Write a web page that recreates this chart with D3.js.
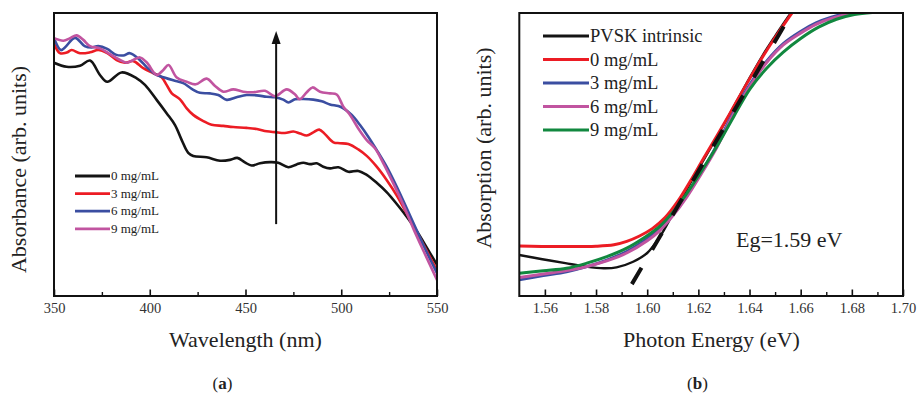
<!DOCTYPE html>
<html>
<head>
<meta charset="utf-8">
<script src="https://cdn.jsdelivr.net/npm/d3@7"></script>
<style>
  html, body { margin: 0; padding: 0; background: #fff; }
  svg { display: block; }
  text { font-family: "Liberation Serif", "Times New Roman", serif; }
</style>
</head>
<body>
<svg id="fig" width="917" height="394"></svg>
<script>
// ---- (a) UV-vis absorbance spectra: [wavelength nm, absorbance a.u.] ----
const abs0 = [[350,0.824],[356.6,0.810],[363.6,0.814],[368.8,0.832],[374,0.781],[377.8,0.757],[385.3,0.790],[393.2,0.769],[397.5,0.746],[403.6,0.693],[408.8,0.646],[413.2,0.604],[416.7,0.551],[420.1,0.506],[422.7,0.495],[429.7,0.490],[436.7,0.478],[441.9,0.481],[445.7,0.488],[449.7,0.472],[453.2,0.461],[457.6,0.469],[462.8,0.473],[467.1,0.471],[472.4,0.455],[476.7,0.465],[480.2,0.471],[483.7,0.466],[487.2,0.469],[490.6,0.457],[494.1,0.451],[498.5,0.455],[503.7,0.439],[508.9,0.442],[513.3,0.428],[518.5,0.400],[523.7,0.367],[529.0,0.325],[534.2,0.280],[539.4,0.230],[544.6,0.172],[550,0.110]];
const abs3 = [[350,0.893],[353.1,0.858],[356.6,0.860],[359.2,0.869],[363.6,0.858],[368.8,0.861],[373.1,0.869],[377.8,0.858],[382.7,0.834],[387.1,0.824],[391.4,0.830],[396.6,0.805],[401.9,0.787],[406.2,0.773],[408.8,0.746],[411.5,0.716],[415.8,0.695],[419.3,0.663],[422.7,0.640],[428.0,0.618],[432.3,0.605],[438.4,0.601],[443.6,0.597],[450.6,0.594],[455.9,0.590],[461.1,0.582],[465.4,0.579],[470.6,0.576],[475.0,0.581],[478.5,0.574],[482.0,0.567],[485.4,0.578],[488.5,0.588],[491.5,0.572],[495.9,0.543],[499.3,0.540],[503.7,0.537],[508.9,0.518],[513.3,0.495],[518.5,0.457],[523.7,0.410],[529.0,0.355],[534.2,0.292],[539.4,0.227],[544.6,0.160],[550,0.090]];
const abs6 = [[350,0.911],[353.6,0.869],[355.7,0.878],[361.0,0.912],[366.0,0.883],[369.7,0.878],[373.1,0.883],[377.8,0.873],[382.2,0.853],[386.2,0.850],[389.7,0.858],[394.5,0.836],[398.5,0.808],[403.0,0.783],[407.6,0.772],[412.3,0.762],[417.5,0.752],[421.9,0.732],[426.2,0.718],[431.5,0.716],[435.8,0.710],[440.2,0.693],[445.7,0.703],[450.6,0.710],[455.9,0.709],[461.1,0.704],[465.4,0.702],[469.7,0.694],[472.4,0.684],[475.9,0.695],[480.2,0.696],[485.4,0.694],[489.8,0.688],[494.1,0.677],[498.5,0.671],[501.1,0.663],[505.5,0.640],[509.8,0.604],[514.1,0.563],[518.5,0.516],[523.7,0.457],[529.0,0.386],[534.2,0.310],[539.4,0.232],[544.6,0.155],[550,0.081]];
const abs9 = [[350,0.911],[354.9,0.902],[358.4,0.911],[361.8,0.921],[365.3,0.905],[368.8,0.883],[374,0.875],[379.2,0.855],[384.5,0.834],[388.0,0.824],[391.4,0.834],[394.9,0.843],[398.5,0.825],[403.6,0.781],[407.1,0.799],[409.8,0.816],[414.1,0.772],[419.3,0.757],[424.0,0.748],[429.7,0.768],[434.1,0.742],[438.4,0.722],[443.6,0.730],[448.8,0.722],[454.1,0.720],[460.2,0.725],[465.4,0.706],[471.5,0.730],[475.9,0.712],[478.2,0.695],[482.0,0.720],[485.0,0.737],[488.9,0.722],[494.1,0.716],[497.6,0.712],[501.1,0.669],[504.6,0.640],[508.9,0.592],[513.3,0.551],[517.6,0.522],[522.0,0.469],[527.2,0.398],[532.4,0.322],[537.6,0.239],[542.9,0.160],[550,0.057]];
const seriesA = ["0 mg/mL", "3 mg/mL", "6 mg/mL", "9 mg/mL"];
const wavelengthTicks = [350, 400, 450, 500, 550];
const wavelengthMinor = [375, 425, 475, 525];
// arrow marking increasing concentration: [wavelength, from, to]
const trendArrow = [466, 0.254, 0.936];

// ---- (b) absorption edge: [photon energy eV, absorption a.u.] ----
const edgeIntrinsic = [[1.550,0.145],[1.559,0.130],[1.568,0.116],[1.576,0.104],[1.583,0.098],[1.588,0.101],[1.5945,0.121],[1.600,0.152],[1.605,0.210],[1.610,0.290],[1.615,0.370],[1.620,0.448],[1.625,0.527],[1.630,0.606],[1.635,0.688],[1.640,0.770],[1.645,0.848],[1.650,0.918],[1.655,0.985],[1.658,1.02]];
const edge0 = [[1.550,0.177],[1.565,0.175],[1.580,0.176],[1.587,0.181],[1.592,0.193],[1.597,0.212],[1.602,0.238],[1.607,0.277],[1.612,0.335],[1.617,0.408],[1.622,0.486],[1.627,0.562],[1.632,0.640],[1.637,0.720],[1.642,0.798],[1.647,0.872],[1.652,0.940],[1.657,1.005],[1.660,1.04]];
const edge3 = [[1.550,0.057],[1.5594,0.072],[1.5685,0.086],[1.5764,0.104],[1.5842,0.127],[1.592,0.157],[1.600,0.202],[1.605,0.238],[1.610,0.288],[1.6155,0.355],[1.6207,0.430],[1.6272,0.532],[1.6337,0.648],[1.6402,0.748],[1.6467,0.830],[1.6532,0.892],[1.6598,0.934],[1.666,0.965],[1.672,0.985],[1.678,0.999],[1.686,1.004]];
const edge6 = [[1.550,0.065],[1.5594,0.078],[1.5685,0.090],[1.5764,0.104],[1.5842,0.124],[1.592,0.152],[1.600,0.195],[1.605,0.232],[1.610,0.283],[1.6155,0.350],[1.6207,0.425],[1.6272,0.525],[1.6337,0.642],[1.6402,0.742],[1.6467,0.825],[1.6532,0.887],[1.6598,0.928],[1.666,0.960],[1.672,0.981],[1.680,0.998],[1.688,1.004]];
const edge9 = [[1.550,0.080],[1.5594,0.089],[1.5685,0.098],[1.5764,0.116],[1.5842,0.139],[1.592,0.169],[1.5985,0.204],[1.605,0.247],[1.6102,0.298],[1.6155,0.363],[1.6207,0.434],[1.6272,0.528],[1.6337,0.632],[1.6402,0.732],[1.6467,0.805],[1.6532,0.862],[1.660,0.910],[1.667,0.950],[1.674,0.978],[1.681,0.995],[1.688,1.002],[1.696,1.004]];
const seriesB = ["PVSK intrinsic", "0 mg/mL", "3 mg/mL", "6 mg/mL", "9 mg/mL"];
const energyTicks = [1.56, 1.58, 1.60, 1.62, 1.64, 1.66, 1.68, 1.70];
const energyMinor = [1.57, 1.59, 1.61, 1.63, 1.65, 1.67, 1.69];
// linear fit of the absorption edge (dashed)
const edgeTangent = [[1.594, 0.042], [1.6565, 1.0]];
const bandGapLabel = "Eg=1.59 eV";

// ---- drawing ----
const svg = d3.select("#fig");
const FONT = "'Liberation Serif', 'Times New Roman', serif";
const colA = ["#141414", "#ec1c24", "#3b4ea1", "#c154a0"];
const colB = ["#141414", "#ec1c24", "#3b4ea1", "#c154a0", "#11883f"];

const defs = svg.append("defs");

function panel(box, xDomain, id) {
  const x = d3.scaleLinear().domain(xDomain).range([box.left, box.right]);
  const y = d3.scaleLinear().domain([0, 1]).range([box.bottom, box.top]);
  defs.append("clipPath").attr("id", id)
    .append("rect").attr("x", box.left).attr("y", box.top)
    .attr("width", box.right - box.left).attr("height", box.bottom - box.top);
  return { x, y };
}

function frameAndAxis(box, x, major, minor, fmt) {
  const g = svg.append("g");
  const ax = g.append("g").attr("transform", `translate(0,${box.bottom})`)
    .call(d3.axisBottom(x).tickValues(major).tickSizeInner(-6.5).tickSizeOuter(0)
      .tickPadding(7).tickFormat(fmt));
  ax.select(".domain").remove();
  ax.selectAll(".tick line").attr("stroke", "#111").attr("stroke-width", 1.6);
  ax.selectAll(".tick text").attr("font-family", FONT).attr("font-size", 14.5).attr("fill", "#333");
  const mn = g.append("g").attr("transform", `translate(0,${box.bottom})`)
    .call(d3.axisBottom(x).tickValues(minor).tickSizeInner(-4).tickSizeOuter(0).tickFormat(""));
  mn.select(".domain").remove();
  mn.selectAll(".tick line").attr("stroke", "#111").attr("stroke-width", 1.4);
  g.append("rect").attr("x", box.left).attr("y", box.top)
    .attr("width", box.right - box.left).attr("height", box.bottom - box.top)
    .attr("fill", "none").attr("stroke", "#111").attr("stroke-width", 2);
}

// ---------- panel (a) ----------
const boxA = { left: 54, right: 437, top: 13, bottom: 296 };
const A = panel(boxA, [350, 550], "clipA");
const lineA = d3.line().x(d => A.x(d[0])).y(d => A.y(d[1])).curve(d3.curveCatmullRom.alpha(0.5));
const gA = svg.append("g").attr("clip-path", "url(#clipA)");
[abs0, abs3, abs6, abs9].forEach((s, i) => {
  gA.append("path").datum(s).attr("d", lineA).attr("fill", "none")
    .attr("stroke", colA[i]).attr("stroke-width", 2.6).attr("stroke-linejoin", "round");
});

// concentration arrow
defs.append("marker").attr("id", "head").attr("markerUnits", "userSpaceOnUse")
  .attr("viewBox", "0 0 10 14").attr("refX", 5).attr("refY", 0)
  .attr("markerWidth", 9).attr("markerHeight", 13).attr("orient", "auto-start-reverse")
  .append("path").attr("d", "M0,14 L5,0 L10,14 Z").attr("fill", "#111");
svg.append("line")
  .attr("x1", A.x(trendArrow[0])).attr("x2", A.x(trendArrow[0]))
  .attr("y1", A.y(trendArrow[1])).attr("y2", A.y(trendArrow[2]) + 10)
  .attr("stroke", "#111").attr("stroke-width", 2);
svg.append("path")
  .attr("d", `M${A.x(trendArrow[0]) - 4.5},${A.y(trendArrow[2]) + 13} L${A.x(trendArrow[0])},${A.y(trendArrow[2])} L${A.x(trendArrow[0]) + 4.5},${A.y(trendArrow[2]) + 13} Z`)
  .attr("fill", "#111");

frameAndAxis(boxA, A.x, wavelengthTicks, wavelengthMinor, d3.format("d"));

// legend (a)
const legA = svg.append("g");
seriesA.forEach((name, i) => {
  const yy = 176 + i * 17.6;
  legA.append("line").attr("x1", 75).attr("x2", 110).attr("y1", yy).attr("y2", yy)
    .attr("stroke", colA[i]).attr("stroke-width", 2.8);
  legA.append("text").attr("x", 111).attr("y", yy).attr("dy", "0.33em")
    .attr("font-size", 13).attr("fill", "#222").text(name);
});

svg.append("text").attr("x", 245.5).attr("y", 347).attr("text-anchor", "middle")
  .attr("font-size", 22).attr("fill", "#222").text("Wavelength (nm)");
svg.append("text").attr("transform", "translate(26,169.5) rotate(-90)").attr("text-anchor", "middle")
  .attr("font-size", 22).attr("fill", "#222").text("Absorbance (arb. units)");
const labA = svg.append("text").attr("x", 222.5).attr("y", 389).attr("text-anchor", "middle")
  .attr("font-size", 17).attr("fill", "#222");
labA.append("tspan").text("(");
labA.append("tspan").attr("font-weight", "bold").text("a");
labA.append("tspan").text(")");

// ---------- panel (b) ----------
const boxB = { left: 519.3, right: 903, top: 13, bottom: 296 };
const B = panel(boxB, [1.55, 1.70], "clipB");
const lineB = d3.line().x(d => B.x(d[0])).y(d => B.y(d[1])).curve(d3.curveCatmullRom.alpha(0.5));
const gB = svg.append("g").attr("clip-path", "url(#clipB)");
[edgeIntrinsic, edge0, edge3, edge6, edge9].forEach((s, i) => {
  gB.append("path").datum(s).attr("d", lineB).attr("fill", "none")
    .attr("stroke", colB[i]).attr("stroke-width", i === 0 ? 2.4 : 3).attr("stroke-linejoin", "round");
});
gB.append("path").datum(edgeTangent).attr("d", d3.line().x(d => B.x(d[0])).y(d => B.y(d[1])))
  .attr("fill", "none").attr("stroke", "#111").attr("stroke-width", 4)
  .attr("stroke-dasharray", "19,21").attr("stroke-linecap", "butt");

frameAndAxis(boxB, B.x, energyTicks, energyMinor, d3.format(".2f"));

const legB = svg.append("g");
seriesB.forEach((name, i) => {
  const yy = 36 + i * 23.5;
  legB.append("line").attr("x1", 543).attr("x2", 589).attr("y1", yy).attr("y2", yy)
    .attr("stroke", colB[i]).attr("stroke-width", 3);
  legB.append("text").attr("x", 590).attr("y", yy).attr("dy", "0.33em")
    .attr("font-size", 18.5).attr("fill", "#222").text(name);
});

svg.append("text").attr("x", 736).attr("y", 246.5)
  .attr("font-size", 22).attr("fill", "#222").text(bandGapLabel);

svg.append("text").attr("x", 711.5).attr("y", 347).attr("text-anchor", "middle")
  .attr("font-size", 22).attr("fill", "#222").text("Photon Energy (eV)");
svg.append("text").attr("transform", "translate(490.5,148) rotate(-90)").attr("text-anchor", "middle")
  .attr("font-size", 22).attr("fill", "#222").text("Absorption (arb. units)");
const labB = svg.append("text").attr("x", 697.5).attr("y", 389).attr("text-anchor", "middle")
  .attr("font-size", 17).attr("fill", "#222");
labB.append("tspan").text("(");
labB.append("tspan").attr("font-weight", "bold").text("b");
labB.append("tspan").text(")");
</script>
</body>
</html>
